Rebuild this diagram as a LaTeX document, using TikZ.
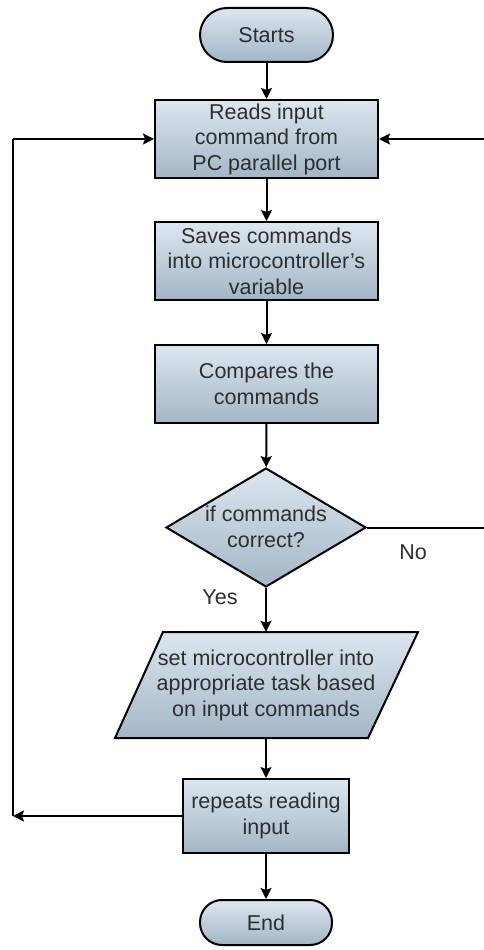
\documentclass[tikz,border=0pt]{standalone}
\usepackage{fontspec}
\setmainfont{Liberation Sans}
\usetikzlibrary{arrows.meta,shapes.geometric}
\definecolor{boxtop}{HTML}{DCE6EF}
\definecolor{boxbot}{HTML}{A3B6C6}
\definecolor{txt}{HTML}{2E2E2E}
\begin{document}
\begin{tikzpicture}[x=1pt,y=-1pt,
  every node/.style={font=\fontsize{21.5}{25.5}\selectfont, text=txt},
  flow/.style={draw=black, line width=2pt, top color=boxtop, bottom color=boxbot},
  procbox/.style={flow, rectangle, align=center, inner sep=0pt},
  termbox/.style={flow, rectangle, align=center, inner sep=0pt},
  decbox/.style={flow, diamond, inner sep=0pt},
  lbl/.style={inner sep=0pt},
  conn/.style={line width=2pt, -{Stealth[length=11pt,width=11pt,inset=2pt]}},
  wire/.style={line width=2pt}
]
\useasboundingbox (0,0) rectangle (483,950);
\fill[white] (0,0) rectangle (483,950);

% terminals and process boxes
\node[termbox, rounded corners=27pt, minimum width=133pt, minimum height=54pt] (start) at (266.5,35) {Starts};
\node[procbox, minimum width=223pt, minimum height=78pt] (read) at (266.5,139)
  {Reads input\\command from\\PC parallel port};
\node[procbox, minimum width=223pt, minimum height=78pt] (save) at (266.5,261)
  {Saves commands\\into microcontroller's\\variable};
\node[procbox, minimum width=223pt, minimum height=78pt] (cmp) at (266.5,384)
  {Compares the\\commands};

% decision
\node[decbox, minimum width=200pt, minimum height=119pt] (dec) at (266,527.5) {};
\node[lbl, align=center] (dectxt) at (266,527) {if commands\\correct?};

% input/output parallelogram
\fill[top color=boxtop, bottom color=boxbot] (163,632) -- (418,632) -- (368,738) -- (115,738) -- cycle;
\draw[line width=2pt, line join=miter] (163,632) -- (418,632) -- (368,738) -- (115,738) -- cycle;
\node[lbl, align=center, minimum width=250pt, minimum height=106pt] (task) at (266,685)
  {set microcontroller into\\appropriate task based\\on input commands};

\node[procbox, minimum width=166pt, minimum height=74pt] (rep) at (266,816)
  {repeats reading\\input};
\node[termbox, rounded corners=22pt, minimum width=132pt, minimum height=45pt] (stop) at (266,922.5) {End};

% main flow
\draw[conn] (start) -- (read);
\draw[conn] (read) -- (save);
\draw[conn] (save) -- (cmp);
\draw[conn] (cmp) -- (dec);
\draw[conn] (dec) -- (task);
\draw[conn] (task) -- (rep);
\draw[conn] (rep) -- (stop);

% loop back on the left
\coordinate (lb) at (13,816);
\coordinate (lt) at (13,139);
\draw[conn] (rep.west) -- (lb);
\draw[wire] (lb) -- (lt);
\draw[conn] (lt) -- (read.west);

% "No" branch, returning along the right edge
\coordinate (rb) at (492,527.5);
\coordinate (rt) at (492,139);
\draw[wire] (dec.east) -- (rb) -- (rt);
\draw[conn] (rt) -- (read.east);

\node[lbl] (nolbl) at (413,552) {No};
\node[lbl] (yeslbl) at (220,597) {Yes};
\end{tikzpicture}
\end{document}
